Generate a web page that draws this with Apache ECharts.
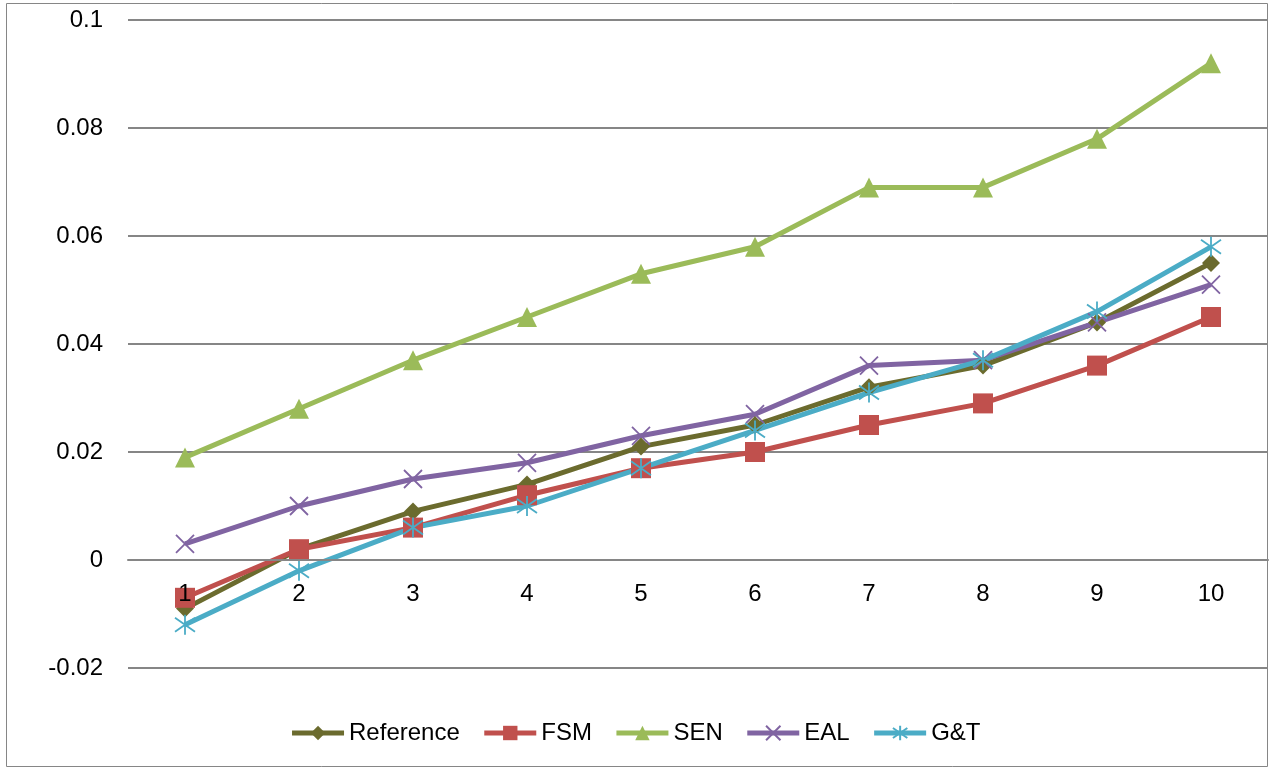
<!DOCTYPE html>
<html>
<head>
<meta charset="utf-8">
<script src="https://cdn.jsdelivr.net/npm/echarts@6/dist/echarts.min.js"></script>
<style>
  html, body { margin: 0; padding: 0; background: #fff; }
  #chart { width: 1270px; height: 770px; }
</style>
</head>
<body>
<div id="chart"></div>
<script>
// Categories along the x axis
const categories = ['1', '2', '3', '4', '5', '6', '7', '8', '9', '10'];

// Series values
const referenceVals = [-0.009, 0.002, 0.009, 0.014, 0.021, 0.025, 0.032, 0.036, 0.044, 0.055];
const fsmVals       = [-0.007, 0.002, 0.006, 0.012, 0.017, 0.020, 0.025, 0.029, 0.036, 0.045];
const senVals       = [0.019, 0.028, 0.037, 0.045, 0.053, 0.058, 0.069, 0.069, 0.078, 0.092];
const ealVals       = [0.003, 0.010, 0.015, 0.018, 0.023, 0.027, 0.036, 0.037, 0.044, 0.051];
const gtVals        = [-0.012, -0.002, 0.006, 0.010, 0.017, 0.024, 0.031, 0.037, 0.046, 0.058];

// Y axis range
const yMin = -0.02, yMax = 0.1, yStep = 0.02;

const FONT = '"Liberation Sans", "DejaVu Sans", sans-serif';

// Open-path markers (stroked, not filled)
const crossPath = 'path://M0 0 L10 10 M10 0 L0 10';
const starPath = 'path://M5 0 L5 10 M0 1.5 L10 8.5 M10 1.5 L0 8.5';

function lineSeries(name, data, color, symbol, size, stroked) {
  return {
    name: name,
    type: 'line',
    data: data,
    symbol: symbol,
    symbolSize: size,
    showAllSymbol: true,
    z: 2,
    lineStyle: { color: color, width: 5 },
    itemStyle: stroked
      ? { color: color, borderColor: color, borderWidth: 1.8 }
      : { color: color, borderWidth: 0 },
    emphasis: { disabled: true },
    animation: false
  };
}

// plot area geometry; the category axis is drawn along value 0
const gridTop = 20, gridBottom = 102;
const plotH = 770 - gridTop - gridBottom;
const zeroShift = plotH * (0 - yMin) / (yMax - yMin);

const chart = echarts.init(document.getElementById('chart'), null, { renderer: 'canvas' });
chart.setOption({
  backgroundColor: '#ffffff',
  animation: false,
  graphic: [{
    type: 'rect',
    shape: { x: 6.5, y: 3.5, width: 1261, height: 763 },
    style: { fill: 'none', stroke: '#868686', lineWidth: 1 },
    silent: true,
    z: -10
  }],
  grid: { left: 128, right: 2, top: gridTop, bottom: gridBottom, containLabel: false },
  legend: {
    bottom: 20,
    left: 'center',
    itemWidth: 52,
    itemHeight: 18,
    itemGap: 22,
    lineStyle: { width: 5 },
    textStyle: { fontFamily: FONT, fontSize: 24, color: '#000' },
    data: ['Reference', 'FSM', 'SEN', 'EAL', 'G&T']
  },
  xAxis: {
    type: 'category',
    data: categories,
    boundaryGap: true,
    offset: -zeroShift,
    z: 10,
    axisLine: { show: true, onZero: false, lineStyle: { color: '#868686', width: 2 } },
    axisTick: { show: false },
    axisLabel: { margin: 22, fontFamily: FONT, fontSize: 24, color: '#000' },
    splitLine: { show: false }
  },
  yAxis: {
    type: 'value',
    min: yMin,
    max: yMax,
    interval: yStep,
    z: 0,
    axisLine: { show: false },
    axisTick: { show: false },
    axisLabel: {
      margin: 25,
      fontFamily: FONT,
      fontSize: 24,
      color: '#000',
      formatter: function (v) { return String(Math.round(v * 1000) / 1000); }
    },
    splitLine: { show: true, lineStyle: { color: '#868686', width: 2 } }
  },
  series: [
    lineSeries('Reference', referenceVals, '#6B6B2E', 'diamond', 18, false),
    lineSeries('FSM', fsmVals, '#C0504D', 'rect', 20, false),
    lineSeries('SEN', senVals, '#9BBB59', 'triangle', 20, false),
    lineSeries('EAL', ealVals, '#8064A2', crossPath, 18, true),
    lineSeries('G&T', gtVals, '#4BACC6', starPath, 20, true)
  ]
});
</script>
</body>
</html>
